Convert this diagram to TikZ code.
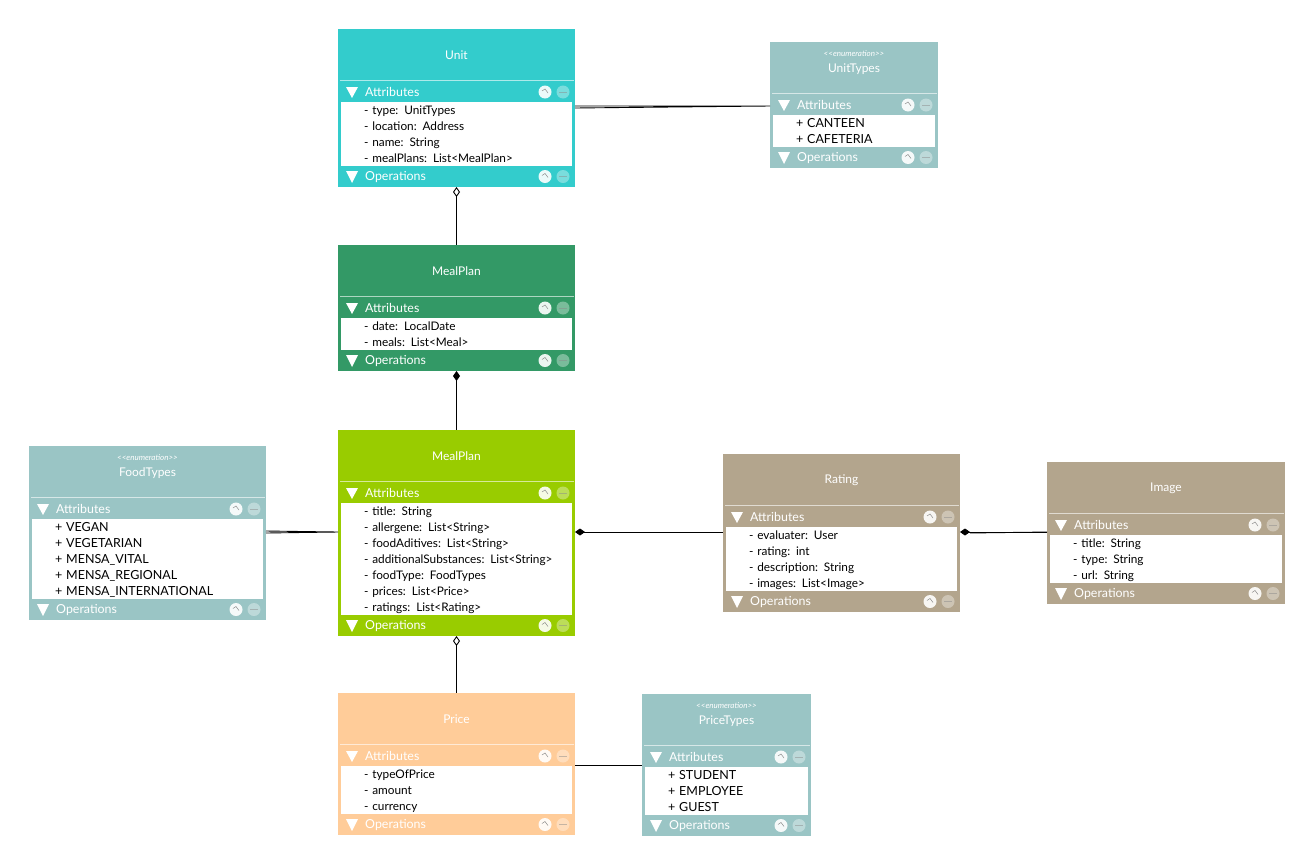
\documentclass[tikz,border=0pt]{standalone}
\usepackage{fontspec}
\usepackage{xcolor}
\setmainfont{Lato}
\usetikzlibrary{positioning,arrows.meta}
\definecolor{unitcol}{HTML}{33CCCC}
\definecolor{enumcol}{HTML}{9AC5C5}
\definecolor{plancol}{HTML}{339966}
\definecolor{mealcol}{HTML}{99CC00}
\definecolor{ratecol}{HTML}{B3A58D}
\definecolor{pricecol}{HTML}{FFCC99}

\newcommand{\enumhead}[1]{{\fontsize{8}{16}\itshape <{}<enumeration>{}>}\\#1\\[-2pt]~}
\newcommand{\enumfont}{\fontsize{12.5}{16}\selectfont}
\newcommand{\umlbar}[7]{%
    \node[classbar, fill=#3, minimum width=#4pt, minimum height=#6pt, below=0pt of #1#5] (#1#2) {};
    \node[barlabel] (#1#2label) at ([xshift=27pt]#1#2.west) {#7};
    \fill[white] ([xshift=8pt,yshift=-5pt]#1#2.north west) -- ([xshift=20pt,yshift=-5pt]#1#2.north west)
        -- ([xshift=14pt,yshift=4pt]#1#2.south west) -- cycle;
    \fill[white, opacity=.9] ([xshift=-30pt]#1#2.east) circle (6.5pt);
    \fill[white, opacity=.35] ([xshift=-12pt]#1#2.east) circle (6.5pt);
    \draw[iconmark] ([xshift=-33pt,yshift=1pt]#1#2.east) -- ([xshift=-30pt,yshift=3pt]#1#2.east) -- ([xshift=-27pt,yshift=-1pt]#1#2.east);
    \draw[iconmark, opacity=.5] ([xshift=-16pt]#1#2.east) -- ([xshift=-8pt]#1#2.east);
}
\newcommand{\umlclass}[7][]{%
    \node[classhead, fill=#6, minimum width=#4pt] (#2) at (#3) {#7};
    \draw[sketchline] ([xshift=2pt,yshift=2pt]#2.south west) -- ([xshift=-1pt,yshift=2pt]#2.south east);
    \umlbar{#2}{attr}{#6}{#4}{}{20}{Attributes}
    \umlrows{#1}{#2}{#4}{#5}{#6}
}
\newcommand{\umlrows}[6]{%
    \node[classbody, text width=#3pt-6pt, minimum height=#4*16pt, below=0pt of #2attr] (#2body) {#1\raisebox{-1pt}[\height][\depth]{\begin{tabular}{@{\hspace{23pt}}l@{}}#6\end{tabular}}};
    \umlbar{#2}{ops}{#5}{#3}{body}{21}{Operations}
    \fill[#5] (#2attr.south west) rectangle ([xshift=3pt]#2ops.north west);
    \fill[#5] (#2attr.south east) rectangle ([xshift=-3pt]#2ops.north east);
}

\begin{document}
\begin{tikzpicture}[
    x=1pt, y=-1pt,
    classhead/.style={anchor=north west, minimum height=53pt, inner sep=0pt, outer sep=0pt, text=white, align=center, font=\fontsize{12}{16}\selectfont},
    classbar/.style={inner sep=0pt, outer sep=0pt},
    barlabel/.style={anchor=west, inner sep=0pt, text=white, text height=10pt, text depth=2pt, font=\fontsize{12.4}{16}\selectfont},
    classbody/.style={fill=white, inner sep=0pt, outer sep=0pt, align=left, font=\fontsize{11.8}{16}\selectfont},
    sketchline/.style={white, opacity=.6, line width=.7pt},
    iconmark/.style={black!45, line width=.5pt},
    assoc/.style={line width=.9pt, black},
    aggr/.style={assoc, {Diamond[open, fill=white, length=10pt, width=7pt]}-},
    comp/.style={assoc, {Diamond[length=10pt, width=7pt]}-}
]
    \useasboundingbox (0,0) rectangle (1314,865);

    \umlclass{unit}{338,29}{237}{4}{unitcol}{Unit}{- type: UnitTypes\\- location: Address\\- name: String\\- mealPlans: List<MealPlan>}
    \umlclass[\enumfont]{unittypes}{770,42}{168}{2}{enumcol}{\enumhead{UnitTypes}}{+ CANTEEN\\+ CAFETERIA}
    \umlclass{mealplan}{338,245}{237}{2}{plancol}{MealPlan}{- date: LocalDate\\- meals: List<Meal>}
    \umlclass{meal}{338,430}{237}{7}{mealcol}{MealPlan}{- title: String\\- allergene: List<String>\\- foodAditives: List<String>\\- additionalSubstances: List<String>\\- foodType: FoodTypes\\- prices: List<Price>\\- ratings: List<Rating>}
    \umlclass[\enumfont]{foodtypes}{29,446}{237}{5}{enumcol}{\enumhead{FoodTypes}}{+ VEGAN\\+ VEGETARIAN\\+ MENSA\_VITAL\\+ MENSA\_REGIONAL\\+ MENSA\_INTERNATIONAL}
    \umlclass{rating}{723,454}{237}{4}{ratecol}{Rating}{- evaluater: User\\- rating: int\\- description: String\\- images: List<Image>}
    \umlclass{image}{1047,462}{238}{3}{ratecol}{Image}{- title: String\\- type: String\\- url: String}
    \umlclass{price}{338,693}{237}{3}{pricecol}{Price}{- typeOfPrice\\- amount\\- currency}
    \umlclass[\enumfont]{pricetypes}{642,694}{169}{3}{enumcol}{\enumhead{PriceTypes}}{+ STUDENT\\+ EMPLOYEE\\+ GUEST}

    \draw[assoc] ([yshift=-4pt]unitattr.south east) -- ([yshift=-1pt]unittypesattr.west) ([yshift=-6pt]unitattr.south east) -- ([yshift=-1pt]unittypesattr.west);
    \draw[aggr] (unitops.south) -- (mealplan.north);
    \draw[comp] (mealplanops.south) -- (meal.north);
    \draw[aggr] (mealops.south) -- (price.north);
    \draw[assoc] ([yshift=-12pt]foodtypesattr.south east) -- ([yshift=-29pt]mealattr.south west) ([yshift=-14pt]foodtypesattr.south east) -- ([yshift=-29pt]mealattr.south west);
    \draw[comp] ([yshift=-29pt]mealattr.south east) -- ([yshift=-5pt]ratingattr.south west);
    \draw[comp] ([yshift=-5pt]ratingattr.south east) -- ([yshift=3pt]imageattr.south west);
    \draw[assoc] ([yshift=-5pt]ratingattr.south east) ++(10pt,-1pt) -- ([yshift=3pt]imageattr.south west);
    \draw[assoc] ([yshift=1pt]priceattr.south east) -- ([yshift=2pt]pricetypesattr.south west);
\end{tikzpicture}
\end{document}
